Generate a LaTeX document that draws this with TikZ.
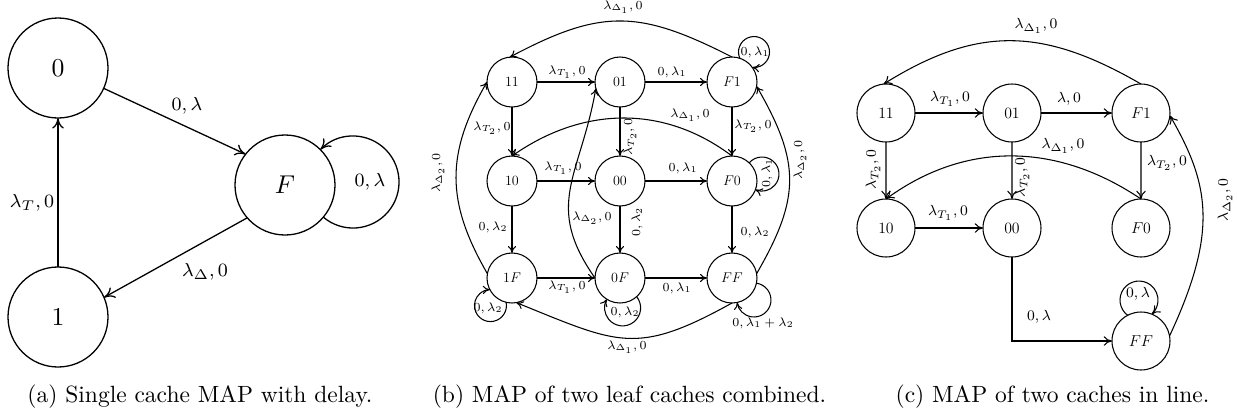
\documentclass[tikz,border=0pt]{standalone}
\usetikzlibrary{arrows.meta,calc}
% clockwise loop: node, theta (direction of loop centre), D (distance), r (loop radius), R (node radius), style
\newcommand{\mycwloop}[6]{%
  \pgfmathsetmacro\lpb{acos((#5*#5+#3*#3-#4*#4)/(2*#5*#3))}%
  \pgfmathsetmacro\lpa{acos((#4*#4+#3*#3-#5*#5)/(2*#4*#3))}%
  \pgfmathsetmacro\lps{#2+\lpb}%
  \pgfmathsetmacro\lsa{#2+180-\lpa}%
  \pgfmathsetmacro\lea{#2-180+\lpa}%
  \draw[#6] ($(#1.center)+(\lps:#5)$) arc[start angle=\lsa, end angle=\lea, radius=#4];}
\newcommand{\myccwloop}[6]{%
  \pgfmathsetmacro\lpb{acos((#5*#5+#3*#3-#4*#4)/(2*#5*#3))}%
  \pgfmathsetmacro\lpa{acos((#4*#4+#3*#3-#5*#5)/(2*#4*#3))}%
  \pgfmathsetmacro\lps{#2-\lpb}%
  \pgfmathsetmacro\lsa{#2+180+\lpa}%
  \pgfmathsetmacro\lea{#2+540-\lpa}%
  \draw[#6] ($(#1.center)+(\lps:#5)$) arc[start angle=\lsa, end angle=\lea, radius=#4];}
\tikzset{
  na/.style={circle,draw,line width=0.55pt,minimum size=42.55pt,inner sep=0pt,outer sep=0pt,font=\fontsize{11}{13}\selectfont},
  nb/.style={circle,draw,line width=0.45pt,minimum size=42.56pt,inner sep=0pt,outer sep=0pt,font=\fontsize{12}{14}\selectfont,scale=0.5},
  nc/.style={circle,draw,line width=0.45pt,minimum size=44.07pt,inner sep=0pt,outer sep=0pt,font=\fontsize{12}{14}\selectfont,scale=0.56},
  la/.style={inner sep=0pt,font=\fontsize{8.5}{10}\selectfont},
  lb/.style={inner sep=0pt,font=\fontsize{7}{8}\selectfont,scale=0.75},
  lc/.style={inner sep=0pt,font=\fontsize{8}{9.6}\selectfont,scale=0.78},
  ea/.style={line width=0.55pt,-{To[length=4.5pt,width=5pt]}},
  eb/.style={line width=0.45pt,-{To[length=3pt,width=3.5pt]}},
  ec/.style={line width=0.45pt,-{To[length=3.5pt,width=4pt]}},
  captext/.style={inner sep=0pt,font=\normalsize}
}
\begin{document}
\begin{tikzpicture}[x=0.4255pt,y=0.4255pt]
\useasboundingbox (0,0) rectangle (1237,415);
% ---------------- (a)
\node[na] (a0) at (58,347) {$0$};
\node[na] (a1) at (58,98) {$1$};
\node[na] (aF) at (285,230) {$F$};
\draw[ea] (a0.-24) -- (aF.142);
\draw[ea] (aF.221) -- (a1.23);
\draw[ea] (a1) -- (a0);
\myccwloop{aF}{2.5}{68.1}{46}{50}{ea}
\node[la] (la1) at (187,309) {$0,\lambda$};
\node[la] (la2) at (205,143) {$\lambda_\Delta,0$};
\node[la] (la3) at (32,212) {$\lambda_T,0$};
\node[la] (la4) at (370,233) {$0,\lambda$};
\node[captext] (capa) at (200,18) {(a) Single cache MAP with delay.};
% ---------------- (b)
\node[nb] (b11) at (512,333) {$11$};
\node[nb] (b01) at (620,333) {$01$};
\node[nb] (bF1) at (732,333) {$F1$};
\node[nb] (b10) at (512,234) {$10$};
\node[nb] (b00) at (620,234) {$00$};
\node[nb] (bF0) at (732,234) {$F0$};
\node[nb] (b1F) at (512,137) {$1F$};
\node[nb] (b0F) at (620,137) {$0F$};
\node[nb] (bFF) at (732,137) {$FF$};
\draw[eb] (b11) -- (b01);
\draw[eb] (b01) -- (bF1);
\draw[eb] (b10) -- (b00);
\draw[eb] (b00) -- (bF0);
\draw[eb] (b1F) -- (b0F);
\draw[eb] (b0F) -- (bFF);
\draw[eb] (b11) -- (b10);
\draw[eb] (b01) -- (b00);
\draw[eb] (bF1) -- (bF0);
\draw[eb] (b10) -- (b1F);
\draw[eb] (b00) -- (b0F);
\draw[eb] (bF0) -- (bFF);
\draw[eb] (bF1.north) to[out=153,in=28,out distance=44.25pt,in distance=44.25pt] (b11.95);
\draw[eb] (bF0.north) to[out=143,in=35,out distance=36.6pt,in distance=36.6pt] (b10.north);
\draw[eb] (bFF.south) to[out=209,in=-22,out distance=46.8pt,in distance=46.8pt] (b1F.-80);
\draw[eb] (b1F.170) to[out=120,in=240,out distance=35.3pt,in distance=35.3pt] (b11.west);
\draw[eb] (bFF.10) to[out=60,in=-60,out distance=37.4pt,in distance=37.4pt] (bF1.-10);
\draw[eb] (b0F.west) to[out=125,in=260,out distance=38.3pt,in distance=38.3pt] (b01.195);
\mycwloop{bF1}{53.7}{37.2}{15.5}{25}{eb}
\mycwloop{bF0}{13.1}{30.8}{17}{25}{eb}
\mycwloop{b1F}{232}{35}{16}{25}{eb}
\mycwloop{b0F}{275}{30}{18}{25}{eb}
\mycwloop{bFF}{-45}{31.1}{17}{25}{eb}
\node[lb] (lb1) at (623,408) {$\lambda_{\Delta_1},0$};
\node[lb] (lb2) at (567,343) {$\lambda_{T_1},0$};
\node[lb] (lb3) at (672,343) {$0,\lambda_1$};
\node[lb] (lb4) at (492,287) {$\lambda_{T_2},0$};
\node[lb,rotate=90] (lb5) at (630,278) {$\lambda_{T_2},0$};
\node[lb] (lb6) at (753,289) {$\lambda_{T_2},0$};
\node[lb] (lb7) at (690,300) {$\lambda_{\Delta_1},0$};
\node[lb] (lb8) at (563,247) {$\lambda_{T_1},0$};
\node[lb] (lb9) at (683,247) {$0,\lambda_1$};
\node[lb,rotate=90] (lb10) at (438,242) {$\lambda_{\Delta_2},0$};
\node[lb,rotate=90] (lb11) at (800,255) {$\lambda_{\Delta_2},0$};
\node[lb] (lb12) at (493,188) {$0,\lambda_2$};
\node[lb] (lb13) at (592,197) {$\lambda_{\Delta_2},0$};
\node[lb,rotate=90] (lb14) at (637,193) {$0,\lambda_2$};
\node[lb] (lb15) at (755,183) {$0,\lambda_2$};
\node[lb] (lb16) at (567,128) {$\lambda_{T_1},0$};
\node[lb] (lb17) at (677,127) {$0,\lambda_1$};
\node[lb] (lb18) at (627,68) {$\lambda_{\Delta_1},0$};
\node[lb] (lb19) at (755,363) {$0,\lambda_1$};
\node[lb,rotate=90] (lb20) at (767,242) {$0,\lambda_1$};
\node[lb] (lb21) at (488,107) {$0,\lambda_2$};
\node[lb] (lb22) at (625,103) {$0,\lambda_2$};
\node[lb] (lb23) at (763,92) {$0,\lambda_1+\lambda_2$};
\node[captext] (capb) at (629.5,18) {(b) MAP of two leaf caches combined.};
% ---------------- (c)
\node[nc] (c11) at (886,302) {$11$};
\node[nc] (c01) at (1012,302) {$01$};
\node[nc] (cF1) at (1141,302) {$F1$};
\node[nc] (c10) at (886,187) {$10$};
\node[nc] (c00) at (1012,187) {$00$};
\node[nc] (cF0) at (1141,187) {$F0$};
\node[nc] (cFF) at (1141,74) {$FF$};
\draw[ec] (c11) -- (c01);
\draw[ec] (c01) -- (cF1);
\draw[ec] (c10) -- (c00);
\draw[ec] (c11) -- (c10);
\draw[ec] (c01) -- (c00);
\draw[ec] (cF1) -- (cF0);
\draw[ec] (cF1.north) to[out=150,in=32,out distance=47.7pt,in distance=47.7pt] (c11.95);
\draw[ec] (cF0.north) to[out=146,in=36,out distance=42.55pt,in distance=42.55pt] (c10.north);
\draw[ec] (c00) |- (cFF);
\draw[ec] (cFF.10) to[out=65,in=-60,out distance=48.9pt,in distance=34pt] (cF1.-5);
\mycwloop{cFF}{92.8}{41}{19}{29}{ec}
\node[lc] (lc1) at (950,316) {$\lambda_{T_1},0$};
\node[lc] (lc2) at (1069,316) {$\lambda,0$};
\node[lc,rotate=90] (lc3) at (873,245) {$\lambda_{T_2},0$};
\node[lc,rotate=90] (lc4) at (1022,237) {$\lambda_{T_2},0$};
\node[lc] (lc5) at (1167,252) {$\lambda_{T_2},0$};
\node[lc] (lc6) at (948,202) {$\lambda_{T_1},0$};
\node[lc] (lc7) at (1036,389) {$\lambda_{\Delta_1},0$};
\node[lc] (lc8) at (1063,269) {$\lambda_{\Delta_1},0$};
\node[lc] (lc9) at (1039,98) {$0,\lambda$};
\node[lc] (lc10) at (1138,121) {$0,\lambda$};
\node[lc,rotate=90] (lc11) at (1225,215) {$\lambda_{\Delta_2},0$};
\node[captext] (capc) at (1052.5,18) {(c) MAP of two caches in line.};
\end{tikzpicture}
\end{document}
